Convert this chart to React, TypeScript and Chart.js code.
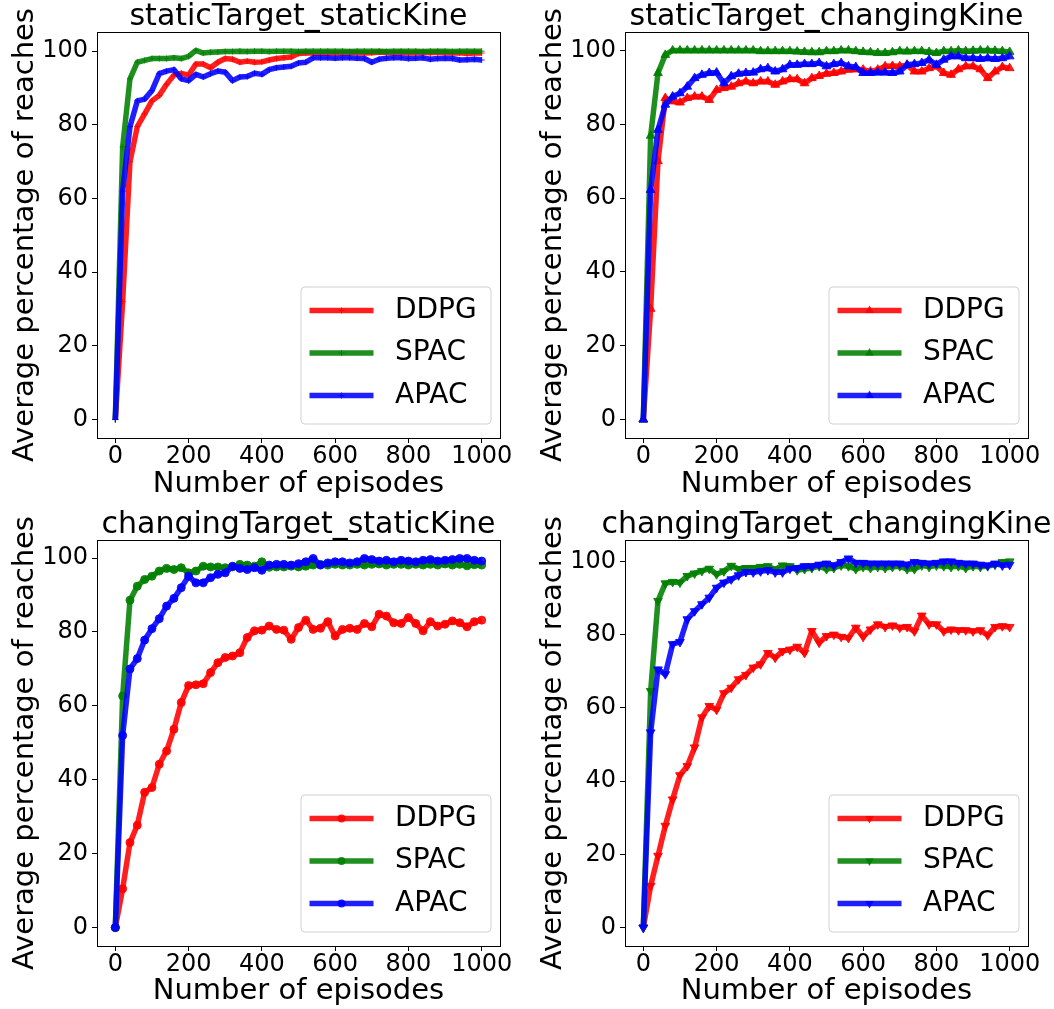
import React, { useEffect, useRef } from "react";
import { Chart, registerables } from "chart.js";

Chart.register(...registerables);

const FONT = "'DejaVu Sans', sans-serif";

const EPISODES = [
  0, 20, 40, 60, 80, 100, 120, 140, 160, 180, 200, 220, 240, 260, 280, 300, 320, 340, 360, 380,
  400, 420, 440, 460, 480, 500, 520, 540, 560, 580, 600, 620, 640, 660, 680, 700, 720, 740, 760,
  780, 800, 820, 840, 860, 880, 900, 920, 940, 960, 980, 1000,
];
const X_TICKS = [0, 200, 400, 600, 800, 1000];
const Y_TICKS = [0, 20, 40, 60, 80, 100];
const SERIES = ["DDPG", "SPAC", "APAC"];
const COLORS = ["rgba(255,0,0,0.88)", "rgba(0,128,0,0.88)", "rgba(0,0,255,0.88)"];
const TITLES = [
  "staticTarget_staticKine",
  "staticTarget_changingKine",
  "changingTarget_staticKine",
  "changingTarget_changingKine",
];
const X_LABEL = "Number of episodes";
const Y_LABEL = "Average percentage of reaches";

// Panel 1: staticTarget_staticKine
const P1_DDPG = [
  0, 32, 70, 79.5, 83, 86.5, 88, 91, 93.5, 94,
  93.5, 96.5, 96.5, 95.5, 97, 98, 97.8, 97, 97.3, 97,
  97.1, 97.6, 98, 98.2, 98.4, 99.4, 99.5, 99.5, 99.6, 99.6,
  99.5, 99.6, 99.7, 99.6, 99.5, 99.6, 99.8, 99.7, 99.6, 99.7,
  99.5, 99.6, 99.7, 99.6, 99.7, 99.6, 99.5, 99.6, 99.4, 99.5,
  99.5,
];
const P1_SPAC = [
  0, 74, 92.5, 97, 97.5, 98, 98, 98, 98.2, 98,
  98.6, 100.2, 99.5, 99.7, 99.8, 99.9, 99.9, 100, 99.9, 100,
  100, 99.9, 100, 100, 100, 99.9, 100, 100, 100, 100,
  100, 100, 99.9, 100, 100, 100, 100, 99.9, 100, 100,
  100, 100, 99.9, 100, 100, 100, 99.9, 100, 100, 100,
  100,
];
const P1_APAC = [
  0, 62, 79.5, 86.5, 87, 89.3, 93.9, 94.6, 95, 92.5,
  92, 93.7, 93, 93.9, 94.6, 94.3, 92, 93, 93.1, 94,
  93.7, 95, 95.5, 95.7, 95.9, 96.8, 97, 98.2, 98.2, 98.2,
  98.1, 98.2, 98.2, 98.1, 98, 97, 97.8, 98.1, 98.2, 98.2,
  98, 98.1, 98.2, 97.8, 98, 98.1, 98, 97.6, 97.7, 97.8,
  97.6,
];

// Panel 2: staticTarget_changingKine
const P2_DDPG = [
  0, 30, 70, 87.1, 86.2, 85.9, 87.1, 87.5, 87.5, 86.6,
  89.3, 89.8, 90.2, 91.1, 91.6, 91.1, 91.6, 91.6, 90.7, 91.6,
  92.2, 92.2, 91.1, 92.5, 93.1, 93.7, 93.9, 94.3, 94.8, 94.9,
  94.8, 94.3, 94.8, 95.7, 95.8, 95.7, 96.1, 94.3, 94.3, 95.2,
  95.7, 93.9, 93.4, 94.9, 95.7, 95.7, 94.9, 92.5, 94.3, 95.5,
  95.2,
];
const P2_SPAC = [
  0, 76.9, 93.9, 98.8, 100, 100, 100, 100, 100, 100,
  100, 100, 100, 100, 100, 100, 99.8, 99.8, 99.8, 99.8,
  99.8, 99.7, 99.6, 99.5, 99.5, 99.8, 99.8, 100, 100, 99.8,
  99.6, 99.5, 99.3, 99.3, 99.5, 99.8, 99.7, 99.8, 99.8, 99.6,
  99.3, 99.8, 99.8, 100, 99.8, 99.9, 100, 100, 99.9, 99.8,
  99.6,
];
const P2_APAC = [
  0, 62.2, 78.5, 85.3, 87.5, 88.4, 90.2, 92.5, 93.4, 93.9,
  94, 91.1, 93, 93.7, 93.9, 94, 94.9, 95.2, 94.3, 94.9,
  96.1, 96.1, 96.3, 96.3, 96.6, 95.7, 96.3, 96.6, 95.7, 95.5,
  93.9, 93.9, 94, 94, 93.9, 94.3, 96.1, 96.3, 96.6, 97.5,
  96.1, 97.5, 98.4, 98.4, 97.9, 97.9, 97.7, 97.9, 97.7, 97.9,
  98.4,
];

// Panel 3: changingTarget_staticKine
const P3_DDPG = [
  0, 10.5, 23, 27.7, 36.6, 37.9, 44.2, 47.8, 53.7, 60.9,
  65.5, 65.7, 66, 69, 71.7, 73.1, 73.5, 74.4, 78.5, 80.3,
  80.5, 81.6, 80.7, 80.5, 78, 81.2, 83.2, 80.7, 81, 82.8,
  78.9, 80.7, 81, 80.7, 82.3, 81.4, 84.8, 84.3, 82.5, 82.3,
  83.9, 82.3, 80.3, 82.8, 81.6, 82.1, 83, 82.5, 81.4, 82.8,
  83.2,
];
const P3_SPAC = [
  0, 62.7, 88.6, 92.4, 94.2, 95.1, 96.5, 97.2, 96.9, 97.4,
  96, 96.5, 97.8, 97.6, 97.6, 97.4, 97.6, 98.3, 98.1, 97.8,
  99, 97.5, 97.6, 97.6, 97.8, 97.6, 97.8, 98.1, 98.3, 98.1,
  98.3, 98.1, 98.1, 98.3, 98.1, 98.3, 98.4, 98.1, 98.3, 98.3,
  98.1, 98.3, 98.1, 98.3, 98.1, 98.4, 98.1, 98.3, 97.9, 98.2,
  98.1,
];
const P3_APAC = [
  0, 52, 70, 72.8, 77.8, 80.9, 83.6, 87, 89.1, 92,
  95.1, 93.3, 93.3, 94.7, 95.6, 96, 97.8, 97.2, 96.9, 97.4,
  96.7, 98.1, 98.3, 98.3, 98.1, 98.5, 99, 99.9, 98.1, 98.7,
  99, 99, 98.7, 99, 99.9, 99.6, 99.2, 99.4, 99, 99.4,
  99.2, 99, 99.4, 99.6, 99.2, 99.4, 99.6, 99.9, 99.9, 99.4,
  99.2,
];

// Panel 4: changingTarget_changingKine
const P4_DDPG = [
  0, 11.4, 19.6, 27.8, 35, 41.6, 44.1, 49.2, 57.4, 60.5,
  59.5, 64, 65.5, 67.8, 69, 71, 71.9, 75, 73.7, 75.5,
  75.9, 76.7, 75, 81, 77.8, 79.6, 80, 79.4, 79.1, 81.9,
  79.4, 81.4, 82.8, 82.1, 82.5, 81.9, 82.1, 80.9, 85.2, 82.8,
  82.8, 80.9, 81.4, 81.2, 81.2, 80.9, 81.2, 79.8, 82.1, 82.3,
  82.1,
];
const P4_SPAC = [
  0, 64.6, 89.2, 94, 94.4, 94.2, 96, 96.7, 97.4, 98,
  96.5, 97.3, 98.8, 97.9, 98.2, 98.2, 98.5, 98.7, 97.8, 98.9,
  98.7, 97.6, 97.9, 98.2, 98.7, 97.9, 98.2, 98.9, 98.7, 97.9,
  98.5, 98.2, 98.5, 98.2, 98.5, 98.7, 97.9, 97.9, 98.9, 98.5,
  98.9, 98.7, 98.5, 98.7, 98.2, 98.7, 98.5, 98.7, 99.1, 99.8,
  100,
];
const P4_APAC = [
  0, 53.3, 70.5, 69.2, 77.4, 78, 84.2, 86.4, 88.3, 90.1,
  92.8, 94.2, 95.1, 96.2, 97.1, 97, 97.3, 97.6, 97, 97,
  98, 98.2, 98.7, 98.7, 99.1, 99.4, 98.9, 99.8, 100.8, 99.6,
  99.6, 99.4, 99.4, 99.4, 99.4, 99.4, 99.1, 99.8, 99.6, 99.4,
  99.6, 100, 100, 99.6, 99.4, 99.4, 99.1, 98.9, 99.4, 98.9,
  99.1,
];

type Marker = "cross" | "triangle" | "circle" | "triangleDown";

interface PanelCfg {
  title: string;
  series: number[][];
  marker: Marker;
  left: number;
  top: number;
  width: number;
  height: number;
  row: number;
}

const PANELS: PanelCfg[] = [
  { title: TITLES[0], series: [P1_DDPG, P1_SPAC, P1_APAC], marker: "cross", left: 0, top: 0, width: 527, height: 505, row: 0 },
  { title: TITLES[1], series: [P2_DDPG, P2_SPAC, P2_APAC], marker: "triangle", left: 528, top: 0, width: 526, height: 505, row: 0 },
  { title: TITLES[2], series: [P3_DDPG, P3_SPAC, P3_APAC], marker: "circle", left: 0, top: 505, width: 527, height: 504, row: 1 },
  { title: TITLES[3], series: [P4_DDPG, P4_SPAC, P4_APAC], marker: "triangleDown", left: 528, top: 505, width: 526, height: 504, row: 1 },
];

function markerRadius(m: Marker) {
  if (m === "cross") return 3;
  if (m === "circle") return 4;
  return 5;
}

function drawMarker(ctx: CanvasRenderingContext2D, m: Marker, x: number, y: number, color: string) {
  const r = markerRadius(m);
  ctx.save();
  ctx.fillStyle = color;
  ctx.strokeStyle = color;
  ctx.lineWidth = 1;
  ctx.beginPath();
  if (m === "circle") {
    ctx.arc(x, y, r, 0, Math.PI * 2);
    ctx.fill();
  } else if (m === "cross") {
    ctx.moveTo(x - r, y);
    ctx.lineTo(x + r, y);
    ctx.moveTo(x, y - r);
    ctx.lineTo(x, y + r);
    ctx.stroke();
  } else {
    const s = m === "triangleDown" ? -1 : 1;
    ctx.moveTo(x, y - s * r);
    ctx.lineTo(x + r * 0.866, y + s * r * 0.5);
    ctx.lineTo(x - r * 0.866, y + s * r * 0.5);
    ctx.closePath();
    ctx.fill();
  }
  ctx.restore();
}

const framePlugin = {
  id: "frameBox",
  afterDraw(chart: any) {
    const { ctx, chartArea: a } = chart;
    ctx.save();
    ctx.strokeStyle = "#000";
    ctx.lineWidth = 1;
    ctx.strokeRect(Math.round(a.left) + 0.5, Math.round(a.top) + 0.5, Math.round(a.right - a.left), Math.round(a.bottom - a.top));
    ctx.restore();
  },
};

function makeTitle(text: string) {
  return {
    id: "panelTitle",
    afterDraw(chart: any) {
      const { ctx, chartArea: a } = chart;
      ctx.save();
      ctx.fillStyle = "#000";
      ctx.font = `30px ${FONT}`;
      ctx.textAlign = "center";
      ctx.textBaseline = "middle";
      ctx.fillText(text, (a.left + a.right) / 2, a.top - 15);
      ctx.restore();
    },
  };
}

function makeLegend(marker: Marker) {
  return {
    id: "insideLegend",
    afterDraw(chart: any) {
      const { ctx, chartArea: a } = chart;
      const w = 190;
      const h = 137;
      const x0 = a.right - 9 - w;
      const y0 = a.bottom - 14 - h;
      ctx.save();
      const r = 4;
      ctx.beginPath();
      ctx.moveTo(x0 + r, y0);
      ctx.lineTo(x0 + w - r, y0);
      ctx.arcTo(x0 + w, y0, x0 + w, y0 + r, r);
      ctx.lineTo(x0 + w, y0 + h - r);
      ctx.arcTo(x0 + w, y0 + h, x0 + w - r, y0 + h, r);
      ctx.lineTo(x0 + r, y0 + h);
      ctx.arcTo(x0, y0 + h, x0, y0 + h - r, r);
      ctx.lineTo(x0, y0 + r);
      ctx.arcTo(x0, y0, x0 + r, y0, r);
      ctx.closePath();
      ctx.fillStyle = "rgba(255,255,255,0.8)";
      ctx.fill();
      ctx.strokeStyle = "rgba(204,204,204,0.9)";
      ctx.lineWidth = 1;
      ctx.stroke();
      SERIES.forEach((name, i) => {
        const y = y0 + 23.5 + i * 42.5;
        ctx.strokeStyle = COLORS[i];
        ctx.lineWidth = 5.5;
        ctx.lineCap = "butt";
        ctx.beginPath();
        ctx.moveTo(x0 + 8.5, y);
        ctx.lineTo(x0 + 72.5, y);
        ctx.stroke();
        drawMarker(ctx, marker, x0 + 40.5, y, COLORS[i]);
        ctx.fillStyle = "#000";
        ctx.font = `28px ${FONT}`;
        ctx.textBaseline = "middle";
        ctx.textAlign = "left";
        ctx.fillText(name, x0 + 94, y);
      });
      ctx.restore();
    },
  };
}

function Panel({ cfg }: { cfg: PanelCfg }) {
  const ref = useRef<HTMLCanvasElement>(null);
  useEffect(() => {
    const canvas = ref.current!;
    const all = cfg.series.flat();
    const lo = Math.min(...all);
    const hi = Math.max(...all);
    const span = hi - lo;
    const yMin = lo - 0.05 * span;
    const yMax = hi + 0.05 * span;
    const chartTop = cfg.row === 0 ? 32 : 35;
    const chartBottom = cfg.row === 0 ? 438 : 441;
    const datasets = cfg.series.map((vals, i) => ({
      label: SERIES[i],
      data: EPISODES.map((x, j) => ({ x, y: vals[j] })),
      borderColor: COLORS[i],
      backgroundColor: COLORS[i],
      borderWidth: 5.5,
      borderJoinStyle: "round" as const,
      pointStyle: cfg.marker === "triangleDown" ? "triangle" : cfg.marker,
      pointRotation: cfg.marker === "triangleDown" ? 180 : 0,
      pointRadius: markerRadius(cfg.marker),
      pointBorderWidth: 1,
      pointBorderColor: COLORS[i],
      pointBackgroundColor: COLORS[i],
      tension: 0,
      order: 2 - i,
    }));
    const tickFont = { family: FONT, size: 24, lineHeight: 1 };
    const labelFont = { family: FONT, size: 29, lineHeight: 1 };
    const chart = new Chart(canvas, {
      type: "line",
      data: { datasets } as any,
      options: {
        responsive: false,
        animation: false,
        events: [],
        layout: { padding: { left: 0, right: cfg.width - 500, top: chartTop, bottom: 0 } },
        plugins: {
          legend: { display: false },
          tooltip: { enabled: false },
          title: { display: false },
        },
        scales: {
          x: {
            type: "linear",
            min: -50,
            max: 1050,
            afterBuildTicks: (s: any) => {
              s.ticks = X_TICKS.map((v) => ({ value: v }));
            },
            afterFit: (s: any) => {
              s.height = cfg.height - chartBottom;
            },
            ticks: {
              color: "#000",
              font: tickFont,
              padding: 2,
              maxRotation: 0,
              autoSkip: false,
              callback: (v: any) => String(v),
            },
            grid: { drawOnChartArea: false, color: "#000", tickLength: 5, lineWidth: 1 },
            border: { display: false },
            title: {
              display: true,
              text: X_LABEL,
              color: "#000",
              font: labelFont,
              padding: { top: 0, bottom: cfg.row === 0 ? 6.5 : 3 },
            },
          },
          y: {
            type: "linear",
            min: yMin,
            max: yMax,
            afterBuildTicks: (s: any) => {
              s.ticks = Y_TICKS.map((v) => ({ value: v }));
            },
            afterFit: (s: any) => {
              s.width = 97;
            },
            ticks: { color: "#000", font: tickFont, padding: 4, autoSkip: false, callback: (v: any) => String(v) },
            grid: { drawOnChartArea: false, color: "#000", tickLength: 5, lineWidth: 1 },
            border: { display: false },
            title: {
              display: true,
              text: Y_LABEL,
              color: "#000",
              font: labelFont,
              padding: { top: 10.5, bottom: 0 },
            },
          },
        },
      } as any,
      plugins: [framePlugin, makeTitle(cfg.title), makeLegend(cfg.marker)],
    });
    return () => chart.destroy();
  }, [cfg]);
  return (
    <canvas
      ref={ref}
      width={cfg.width}
      height={cfg.height}
      style={{ position: "absolute", left: cfg.left, top: cfg.top, width: cfg.width, height: cfg.height, display: "block" }}
    />
  );
}

export default function App() {
  return (
    <div
      style={{
        position: "absolute",
        left: 0,
        top: 0,
        width: 1054,
        height: 1009,
        overflow: "hidden",
        background: "#fff",
      }}
    >
      {PANELS.map((p, i) => (
        <Panel key={i} cfg={p} />
      ))}
    </div>
  );
}
